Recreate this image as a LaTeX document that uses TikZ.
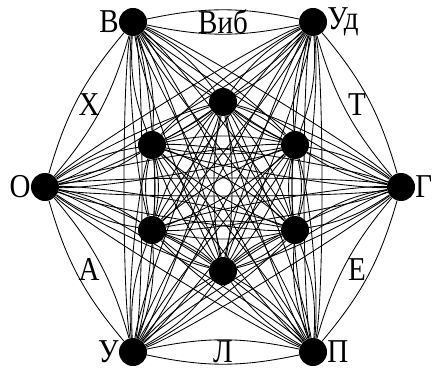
\documentclass[tikz,border=0pt]{standalone}
\usepackage{fontspec}
\setmainfont{Liberation Serif}
\usepackage{graphicx}
\newcommand{\tall}[1]{\scalebox{1}[1.15]{#1}}
\begin{document}
\begin{tikzpicture}[x=1pt,y=-1pt,
  vtx/.style={circle,fill=black,minimum size=28pt,inner sep=0pt,
    label distance=3pt},
  every label/.style={font=\fontsize{29}{32}\selectfont,inner sep=0pt},
  lbl/.style={font=\fontsize{29}{32}\selectfont,inner sep=0pt},
  edge/.style={line width=0.85pt,black},
  side/.style={edge,bend left=#1},
]
\useasboundingbox (0,0) rectangle (436,374);
\def\xs{{133,313,401,313,133,45,223,295,295,223,152,152}}
\def\ys{{22,22,187,352,352,187,102,145,230,271,230,145}}
% outer vertices
\node[vtx,label={left:\tall{В}}]  (n1) at (133,22) {};
\node[vtx,label={right:\tall{Уд}}] (n2) at (313,22) {};
\node[vtx,label={right:\tall{Г}}]  (n3) at (401,187) {};
\node[vtx,label={right:\tall{П}}]  (n4) at (313,352) {};
\node[vtx,label={left:\tall{У}}]   (n5) at (133,352) {};
\node[vtx,label={left:\tall{О}}]   (n6) at (45,187) {};
% inner vertices
\node[vtx] (n7)  at (223,102) {};
\node[vtx] (n8)  at (295,145) {};
\node[vtx] (n9)  at (295,230) {};
\node[vtx] (n10) at (223,271) {};
\node[vtx] (n11) at (152,230) {};
\node[vtx] (n12) at (152,145) {};
% all non-side pairs: thin lens of two curves
\foreach \i in {1,...,11}{
  \pgfmathtruncatemacro\s{\i+1}
  \foreach \j in {\s,...,12}{
    \pgfmathtruncatemacro\adj{and(\j<=6, or(\j-\i==1,\j-\i==5))}
    \ifnum\adj=1\relax\else
      \pgfmathsetmacro\L{veclen(\xs[\i-1]-\xs[\j-1],\ys[\i-1]-\ys[\j-1])-28}
      \pgfmathsetmacro\lo{min(1,100/\L)}
      \draw[edge] (n\i) to[bend left=12,looseness=\lo] (n\j);
      \draw[edge] (n\i) to[bend right=12,looseness=\lo] (n\j);
    \fi
  }
}
% outer sides
\draw[side=12] (n1) to (n2); \draw[side=-12] (n1) to (n2);
\draw[side=12] (n2) to (n3); \draw[side=-12] (n2) to (n3);
\draw[side=12] (n3) to (n4); \draw[side=-12] (n3) to (n4);
\draw[side=12] (n4) to (n5); \draw[side=-12] (n4) to (n5);
\draw[side=12] (n5) to (n6); \draw[side=-12] (n5) to (n6);
\draw[side=12] (n6) to (n1); \draw[side=-12] (n6) to (n1);
% side labels
\path (n1) -- node[lbl]{\tall{Виб}} (n2);
\path (n2) -- node[lbl]{\tall{Т}} (n3);
\path (n3) -- node[lbl]{\tall{Е}} (n4);
\path (n4) -- node[lbl]{\tall{Л}} (n5);
\path (n5) -- node[lbl]{\tall{А}} (n6);
\path (n6) -- node[lbl]{\tall{Х}} (n1);
\end{tikzpicture}
\end{document}
